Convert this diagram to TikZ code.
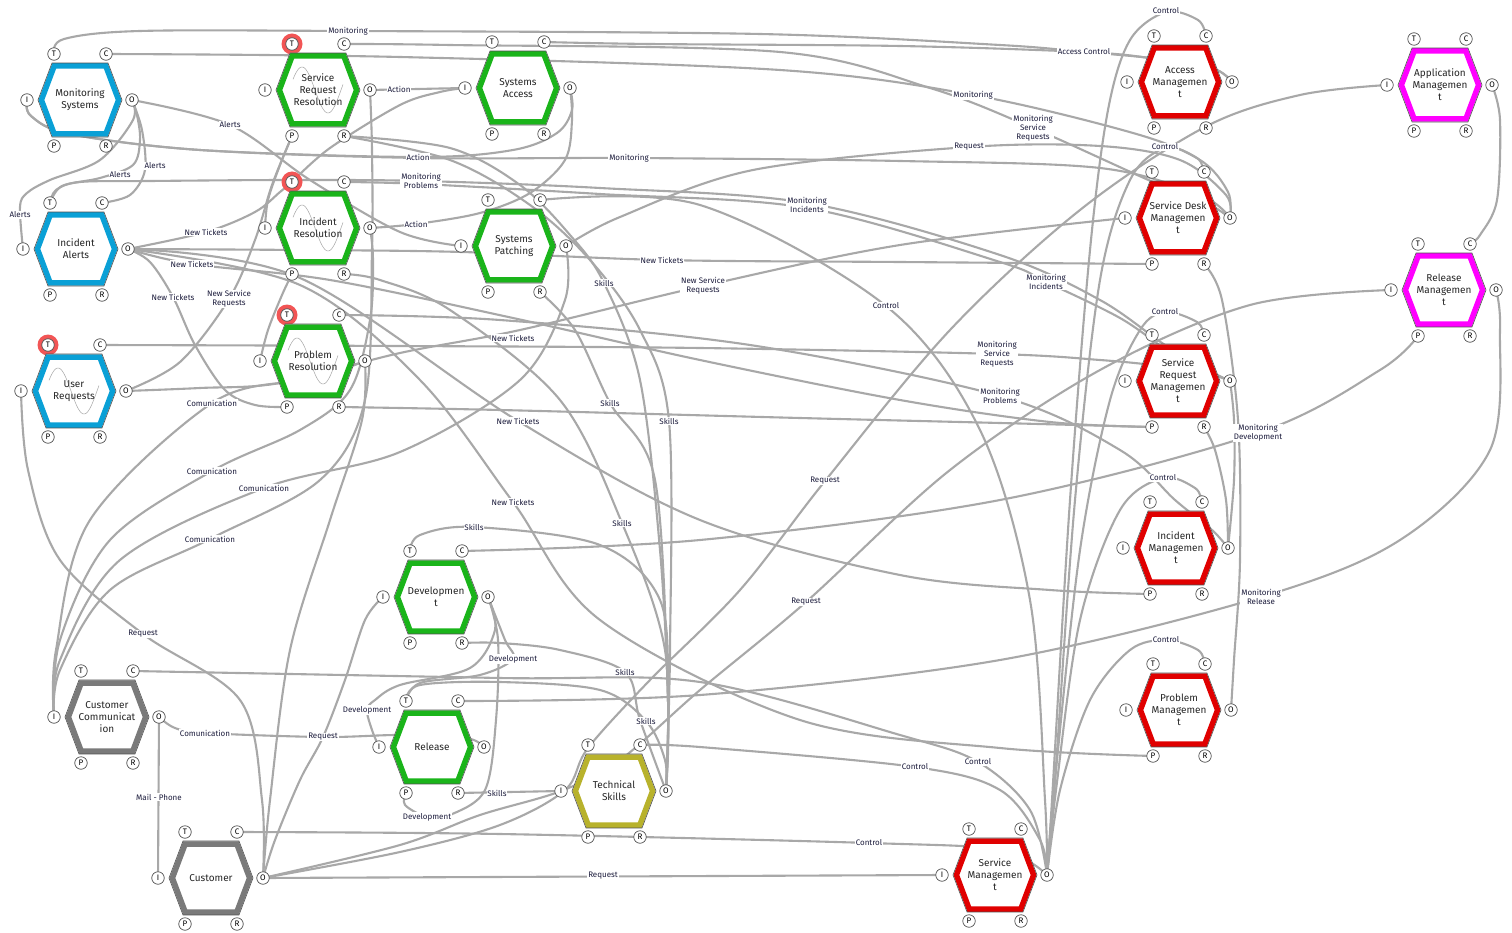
\documentclass[tikz,border=0pt]{standalone}
\usepackage{fontspec}
\setmainfont{Fira Sans}
\definecolor{cblue}{RGB}{10,160,214}
\definecolor{cgreen}{RGB}{26,180,26}
\definecolor{cred}{RGB}{224,0,0}
\definecolor{cmag}{RGB}{255,0,255}
\definecolor{cgray}{RGB}{122,122,122}
\definecolor{colive}{RGB}{184,178,44}
\definecolor{lineg}{RGB}{168,168,168}
\definecolor{outl}{RGB}{80,80,80}
\definecolor{ring}{RGB}{242,85,85}
\definecolor{lbltext}{RGB}{28,28,60}
\tikzset{
  conn/.style={draw=lineg,line width=2.1pt,line cap=round},
  lbl/.style={fill=white,inner sep=0.8pt,text=lbltext,font=\fontsize{8}{9}\selectfont,align=center},
  hextext/.style={text=black!85,font=\fontsize{10}{12}\selectfont,align=center,inner sep=0pt},
  port/.style={circle,draw=outl,fill=white,line width=0.7pt,inner sep=0pt,minimum size=12.5pt,font=\fontsize{8}{8}\selectfont,text=black},
  hexline/.style={draw=outl,line width=0.6pt},
  sinestyle/.style={draw=black!35,line width=0.5pt}
}
\newcommand\defports[3]{%
  \coordinate (#1) at (#2,#3);
  \coordinate (#1-T) at (#2-26,#3-46);
  \coordinate (#1-C) at (#2+26,#3-46);
  \coordinate (#1-I) at (#2-53,#3);
  \coordinate (#1-O) at (#2+52,#3);
  \coordinate (#1-P) at (#2-26,#3+46);
  \coordinate (#1-R) at (#2+26,#3+46);}
\newcommand\hexfun[4][n]{%
  \begin{scope}[shift={(#2)}]
    \fill[white] (-42,0)--(-28,-37)--(28,-37)--(42,0)--(28,37)--(-28,37)--cycle;
    \if s#1\draw[sinestyle] plot[domain=-25:25,samples=60,smooth] (\x,{-23*sin((\x+29)*6.923)});\fi
    \draw[draw=#3,line width=5.5pt] (-38.6,0)--(-25.8,-34)--(25.8,-34)--(38.6,0)--(25.8,34)--(-25.8,34)--cycle;
    \draw[hexline] (-42,0)--(-28,-37)--(28,-37)--(42,0)--(28,37)--(-28,37)--cycle;
  \end{scope}
  \node[hextext] (#2-name) at (#2) {#4};
  \foreach \a in {T,C,I,O,P,R} {\node[port] (#2-\a p) at (#2-\a) {\a};}
}
\newcommand\ringT[1]{\fill[ring] (#1-T) circle (10.5pt);}
\begin{document}
\begin{tikzpicture}[x=1pt,y=-1pt]
\useasboundingbox (0,0) rectangle (1512,933);
\fill[white] (0,0) rectangle (1512,933);
\defports{MS}{80}{100}
\defports{SRR}{318}{90}
\defports{SA}{518}{88}
\defports{AM}{1180}{82}
\defports{AP}{1440}{85}
\defports{IA}{76}{249}
\defports{IR}{318}{228}
\defports{SP}{514}{246}
\defports{SDM}{1178}{218}
\defports{RM}{1444}{290}
\defports{UR}{74}{391}
\defports{PR}{313}{361}
\defports{SRM}{1178}{381}
\defports{IM}{1176}{548}
\defports{DEV}{436}{597}
\defports{PM}{1179}{710}
\defports{CC}{107}{717}
\defports{REL}{432}{747}
\defports{TS}{614}{791}
\defports{CU}{211}{878}
\defports{SM}{995}{875}
% ---------------- connectors
\begin{scope}[every path/.style={conn}]
\draw plot[smooth,tension=.55] coordinates {(MS-T) (64,39) (140,31) (348,31) (760,34) (1000,45) (1084,52) (1150,58) (1212,68) (AM-O)};
\draw plot[smooth,tension=.55] coordinates {(SA-C) (650,44) (900,46) (1084,52) (1150,58) (1212,68) (AM-O)};
\draw plot[smooth,tension=.55] coordinates {(SRR-C) (450,45) (780,52) (930,88) (1033,128) (1153,182) (1205,202) (SDM-O)};
\draw plot[smooth,tension=.55] coordinates {(MS-C) (400,57) (780,70) (973,95) (1133,133) (1200,160) (1228,192) (SDM-O)};
\draw plot[smooth,tension=.55] coordinates {(MS-I) (31,116) (70,134) (200,150) (418,157) (513,150) (557,133) (572,110) (SA-O)};
\draw plot[smooth,tension=.55] coordinates {(MS-I) (31,116) (70,134) (200,150) (418,158) (629,158) (900,161) (1100,168) (1200,195) (SDM-O)};
\draw plot[smooth,tension=.55] coordinates {(SRR-R) (450,148) (520,185) (570,235) (604,283) (640,380) (660,550) (668,700) (TS-O)};
\draw (SRR-O) -- (SA-I);
\draw plot[smooth,tension=.55] coordinates {(UR-O) (180,362) (229,299) (255,240) (272,185) (SRR-P)};
\draw plot[smooth,tension=.55] coordinates {(SRR-P) (280,165) (268,200) (IR-I)};
\draw plot[smooth,tension=.55] coordinates {(IR-T) (330,148) (400,105) (440,92) (SA-I)};
\draw plot[smooth,tension=.55] coordinates {(SA-O) (572,120) (565,160) (530,193) (480,213) (416,224) (IR-O)};
\draw plot[smooth,tension=.55] coordinates {(CU-O) (400,852) (500,825) (565,790) (588,748) (650,680) (740,590) (825,481) (950,330) (1080,210) (1205,127) (1300,95) (AP-I)};
\draw plot[smooth,tension=.55] coordinates {(SP-O) (620,217) (753,170) (969,147) (1100,146) (1180,160) (1226,195) (SDM-O)};
\draw plot[smooth,tension=.55] coordinates {(IA-T) (56,190) (80,182) (150,181) (291,180) (421,181) (600,188) (807,203) (1000,255) (1100,300) (1165,345) (1212,372) (SRM-O)};
\draw plot[smooth,tension=.55] coordinates {(IR-C) (420,184) (600,194) (807,208) (1000,262) (1046,282) (1120,318) (1170,352) (1212,373) (SRM-O)};
\draw plot[smooth,tension=.55] coordinates {(UR-C) (400,346) (700,348) (997,354) (1100,360) (1160,366) (1212,375) (SRM-O)};
\draw plot[smooth,tension=.55] coordinates {(PR-C) (500,320) (750,345) (1000,396) (1120,450) (1175,500) (1212,530) (IM-O)};
\draw plot[smooth,tension=.55] coordinates {(SRM-R) (1215,450) (1226,500) (IM-O)};
\draw plot[smooth,tension=.55] coordinates {(SRM-O) (1234,420) (1234,480) (IM-O)};
\draw plot[smooth,tension=.55] coordinates {(SDM-R) (1222,300) (1238,420) (1240,560) (1234,660) (PM-O)};
\draw plot[smooth,tension=.55] coordinates {(PR-R) (500,410) (800,418) (1000,423) (SRM-P)};
\draw plot[smooth,tension=.55] coordinates {(IA-O) (300,278) (518,421) (700,520) (900,575) (1050,590) (IM-P)};
\draw plot[smooth,tension=.55] coordinates {(IA-O) (300,285) (420,380) (513,502) (600,620) (800,720) (1000,748) (PM-P)};
\draw plot[smooth,tension=.55] coordinates {(IA-O) (150,262) (173,297) (195,345) (225,390) (255,405) (PR-P)};
\draw plot[smooth,tension=.55] coordinates {(IA-O) (206,232) (255,212) (280,192) (IR-T)};
\draw plot[smooth,tension=.55] coordinates {(IA-O) (300,250) (462,252) (662,260) (900,262) (SDM-P)};
\draw plot[smooth,tension=.55] coordinates {(IA-O) (192,264) (330,280) (513,318) (700,360) (900,400) (1050,422) (SRM-P)};
\draw plot[smooth,tension=.55] coordinates {(TS-O) (668,700) (660,600) (600,545) (474,527) (420,535) (DEV-T)};
\draw plot[smooth,tension=.55] coordinates {(TS-O) (668,700) (655,480) (610,403) (575,330) (SP-R)};
\draw plot[smooth,tension=.55] coordinates {(TS-O) (665,650) (622,523) (560,400) (450,310) (380,280) (IR-R)};
\draw plot[smooth,tension=.55] coordinates {(TS-O) (670,650) (669,421) (640,330) (590,260) (530,205) (450,160) (SRR-R)};
\draw plot[smooth,tension=.55] coordinates {(TS-O) (640,720) (625,672) (560,650) (500,643) (DEV-R)};
\draw plot[smooth,tension=.55] coordinates {(TS-O) (665,760) (646,721) (600,690) (500,682) (420,685) (REL-T)};
\draw (REL-R) -- (TS-I);
\draw plot[smooth,tension=.55] coordinates {(DEV-O) (505,640) (513,659) (480,675) (420,683) (REL-T)};
\draw plot[smooth,tension=.55] coordinates {(DEV-O) (498,640) (496,720) (485,790) (450,815) (427,817) (405,805) (REL-P)};
\draw plot[smooth,tension=.55] coordinates {(DEV-O) (495,630) (470,668) (400,685) (375,700) (367,710) (372,730) (REL-I)};
\draw plot[smooth,tension=.55] coordinates {(CC-I) (56,650) (90,520) (212,403) (300,380) (340,370) (PR-O)};
\draw plot[smooth,tension=.55] coordinates {(CC-I) (60,640) (110,540) (212,471) (300,430) (350,390) (370,320) (373,260) (IR-O)};
\draw plot[smooth,tension=.55] coordinates {(CC-I) (60,660) (120,560) (264,488) (400,452) (520,380) (565,300) (SP-O)};
\draw plot[smooth,tension=.55] coordinates {(CC-I) (60,670) (110,590) (210,539) (320,480) (365,400) (372,250) (372,150) (SRR-O)};
\draw plot[smooth,tension=.55] coordinates {(CC-O) (175,728) (205,733) (323,737) (400,735) (466,738) (REL-O)};
\draw (CC-O) -- (CU-I);
\draw plot[smooth,tension=.55] coordinates {(CU-O) (262,800) (240,700) (143,634) (60,560) (28,470) (UR-I)};
\draw plot[smooth,tension=.55] coordinates {(CU-O) (275,840) (300,780) (323,737) (345,680) (365,620) (DEV-I)};
\draw (CU-O) -- (SM-I);
\draw plot[smooth,tension=.55] coordinates {(CU-O) (400,845) (480,815) (TS-I) (620,760) (700,690) (806,602) (950,470) (1100,370) (1250,305) (RM-I)};
\draw plot[smooth,tension=.55] coordinates {(CU-O) (270,800) (290,650) (330,520) (362,420) (PR-O)};
\draw plot[smooth,tension=.55] coordinates {(SM-O) (1052,800) (1070,500) (1090,250) (1108,110) (1130,40) (1166,12) (1198,20) (AM-C)};
\draw plot[smooth,tension=.55] coordinates {(SM-O) (1055,780) (1075,500) (1100,280) (1130,180) (1165,148) (1197,158) (SDM-C)};
\draw plot[smooth,tension=.55] coordinates {(SM-O) (1055,780) (1080,550) (1110,400) (1140,330) (1165,312) (1197,322) (SRM-C)};
\draw plot[smooth,tension=.55] coordinates {(SM-O) (1056,790) (1080,620) (1120,510) (1163,478) (1195,488) (IM-C)};
\draw plot[smooth,tension=.55] coordinates {(SM-O) (1060,790) (1090,700) (1130,650) (1166,640) (1198,650) (PM-C)};
\draw plot[smooth,tension=.55] coordinates {(SP-C) (700,205) (886,306) (980,430) (1030,600) (1045,800) (SM-O)};
\draw plot[smooth,tension=.55] coordinates {(TS-C) (700,747) (915,767) (1000,790) (1040,840) (SM-O)};
\draw plot[smooth,tension=.55] coordinates {(CC-C) (500,678) (700,682) (900,735) (978,762) (1030,810) (SM-O)};
\draw plot[smooth,tension=.55] coordinates {(CU-C) (500,834) (869,843) (1000,850) (SM-O)};
\draw plot[smooth,tension=.55] coordinates {(AP-O) (1500,120) (1497,200) (1480,235) (RM-C)};
\draw plot[smooth,tension=.55] coordinates {(RM-P) (1380,370) (1258,433) (1000,500) (700,540) (DEV-C)};
\draw plot[smooth,tension=.55] coordinates {(RM-O) (1500,330) (1490,450) (1400,540) (1261,597) (1000,660) (700,695) (REL-C)};
\draw plot[smooth,tension=.55] coordinates {(UR-O) (200,388) (280,383) (400,353) (520,330) (703,286) (900,245) (SDM-I)};
\draw plot[smooth,tension=.55] coordinates {(IR-P) (282,295) (268,330) (PR-I)};
\draw plot[smooth,tension=.55] coordinates {(MS-O) (137,115) (140,140) (133,165) (100,178) (62,186) (IA-T)};
\draw plot[smooth,tension=.55] coordinates {(MS-O) (142,130) (145,170) (130,195) (IA-C)};
\draw plot[smooth,tension=.55] coordinates {(MS-O) (133,120) (100,160) (50,180) (27,193) (20,207) (IA-I)};
\draw plot[smooth,tension=.55] coordinates {(MS-O) (230,125) (310,180) (400,232) (SP-I)};
\end{scope}
% ---------------- labels
\node[lbl] (l1) at (348,31) {Monitoring};
\node[lbl] (l2) at (1084,52) {Access Control};
\node[lbl] (l3) at (1166,11) {Control};
\node[lbl] (l4) at (399,89) {Action};
\node[lbl] (l5) at (973,95) {Monitoring};
\node[lbl] (l6) at (230,125) {Alerts};
\node[lbl] (l7) at (1033,128) {Monitoring\\Service\\Requests};
\node[lbl] (l8) at (969,147) {Request};
\node[lbl] (l9) at (1165,147) {Control};
\node[lbl] (l10) at (418,157) {Action};
\node[lbl] (l11) at (629,158) {Monitoring};
\node[lbl] (l12) at (155,166) {Alerts};
\node[lbl] (l13) at (120,175) {Alerts};
\node[lbl] (l14) at (421,181) {Monitoring\\Problems};
\node[lbl] (l15) at (807,205) {Monitoring\\Incidents};
\node[lbl] (l16) at (20,215) {Alerts};
\node[lbl] (l17) at (416,224) {Action};
\node[lbl] (l18) at (206,232) {New Tickets};
\node[lbl] (l19) at (662,260) {New Tickets};
\node[lbl] (l20) at (192,264) {New Tickets};
\node[lbl] (l21) at (1046,282) {Monitoring\\Incidents};
\node[lbl] (l22) at (604,283) {Skills};
\node[lbl] (l23) at (703,286) {New Service\\Requests};
\node[lbl] (l24) at (173,297) {New Tickets};
\node[lbl] (l25) at (229,299) {New Service\\Requests};
\node[lbl] (l26) at (886,306) {Control};
\node[lbl] (l27) at (1165,312) {Control};
\node[lbl] (l28) at (513,338) {New Tickets};
\node[lbl] (l29) at (997,354) {Monitoring\\Service\\Requests};
\node[lbl] (l30) at (1000,396) {Monitoring\\Problems};
\node[lbl] (l31) at (212,403) {Comunication};
\node[lbl] (l32) at (610,403) {Skills};
\node[lbl] (l33) at (669,421) {Skills};
\node[lbl] (l34) at (518,421) {New Tickets};
\node[lbl] (l35) at (1258,433) {Monitoring\\Development};
\node[lbl] (l36) at (212,471) {Comunication};
\node[lbl] (l37) at (1163,478) {Control};
\node[lbl] (l38) at (825,481) {Request};
\node[lbl] (l39) at (264,488) {Comunication};
\node[lbl] (l40) at (513,502) {New Tickets};
\node[lbl] (l41) at (622,523) {Skills};
\node[lbl] (l42) at (474,527) {Skills};
\node[lbl] (l43) at (210,539) {Comunication};
\node[lbl] (l44) at (1261,597) {Monitoring\\Release};
\node[lbl] (l45) at (806,602) {Request};
\node[lbl] (l46) at (143,634) {Request};
\node[lbl] (l47) at (1166,640) {Control};
\node[lbl] (l48) at (513,659) {Development};
\node[lbl] (l49) at (625,672) {Skills};
\node[lbl] (l50) at (367,710) {Development};
\node[lbl] (l51) at (646,721) {Skills};
\node[lbl] (l52) at (205,733) {Comunication};
\node[lbl] (l53) at (323,737) {Request};
\node[lbl] (l54) at (978,762) {Control};
\node[lbl] (l55) at (915,767) {Control};
\node[lbl] (l56) at (497,793) {Skills};
\node[lbl] (l57) at (159,797) {Mail - Phone};
\node[lbl] (l58) at (427,817) {Development};
\node[lbl] (l59) at (869,843) {Control};
\node[lbl] (l60) at (603,876) {Request};
% ---------------- functions
\ringT{SRR}\ringT{IR}\ringT{PR}\ringT{UR}
\hexfun{MS}{cblue}{Monitoring\\Systems}
\hexfun{IA}{cblue}{Incident\\Alerts}
\hexfun[s]{UR}{cblue}{User\\Requests}
\hexfun[s]{SRR}{cgreen}{Service\\Request\\Resolution}
\hexfun[s]{IR}{cgreen}{Incident\\Resolution}
\hexfun[s]{PR}{cgreen}{Problem\\Resolution}
\hexfun{SA}{cgreen}{Systems\\Access}
\hexfun{SP}{cgreen}{Systems\\Patching}
\hexfun{DEV}{cgreen}{Developmen\\t}
\hexfun{REL}{cgreen}{Release}
\hexfun{AM}{cred}{Access\\Managemen\\t}
\hexfun{SDM}{cred}{Service Desk\\Managemen\\t}
\hexfun{SRM}{cred}{Service\\Request\\Managemen\\t}
\hexfun{IM}{cred}{Incident\\Managemen\\t}
\hexfun{PM}{cred}{Problem\\Managemen\\t}
\hexfun{SM}{cred}{Service\\Managemen\\t}
\hexfun{AP}{cmag}{Application\\Managemen\\t}
\hexfun{RM}{cmag}{Release\\Managemen\\t}
\hexfun{CC}{cgray}{Customer\\Communicat\\ion}
\hexfun{CU}{cgray}{Customer}
\hexfun{TS}{colive}{Technical\\Skills}
\end{tikzpicture}
\end{document}
